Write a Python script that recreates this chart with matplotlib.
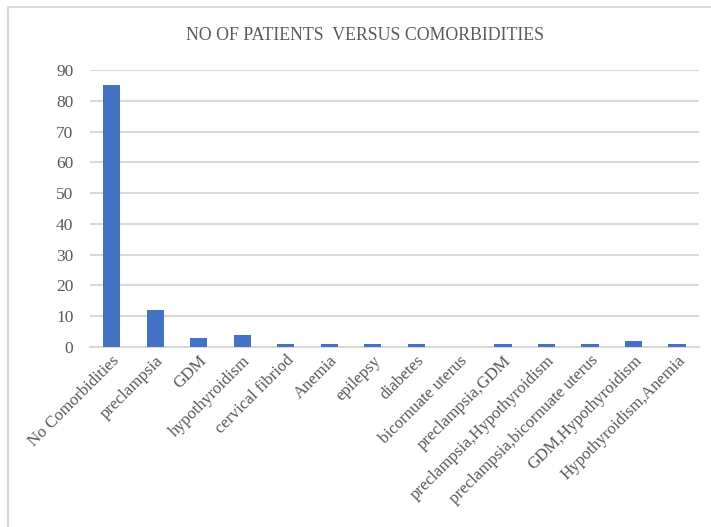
import matplotlib.pyplot as plt
from matplotlib.patches import Rectangle

# Comorbidity categories and patient counts
categories = ['No Comorbidities', 'preclampsia', 'GDM', 'hypothyroidism',
              'cervical fibriod', 'Anemia', 'epilepsy', 'diabetes',
              'bicornuate uterus', 'preclampsia,GDM',
              'preclampsia,Hypothyroidism', 'preclampsia,bicornuate uterus',
              'GDM,Hypothyroidism', 'Hypothyroidism,Anemia']
patients = [85, 12, 3, 4, 1, 1, 1, 1, 0, 1, 1, 1, 2, 1]
y_ticks = [0, 10, 20, 30, 40, 50, 60, 70, 80, 90]

plt.rcParams['font.family'] = ['Liberation Serif', 'DejaVu Serif']
text_color = '#595959'
grid_color = '#d9d9d9'

fig = plt.figure(figsize=(7.11, 5.27), dpi=100)
ax = fig.add_axes([0.1266, 0.3415, 0.8564, 0.5255])

# Light frame around the whole chart (only left and top edges visible)
fig.patches.append(Rectangle((0.0115, -0.05), 1.2, 1.036, transform=fig.transFigure,
                             fill=False, edgecolor='#d9d9d9', linewidth=1.5))

x = range(len(categories))
ax.bar(x, patients, width=0.4, color='#4472c4', zorder=3)

ax.set_xlim(-0.5, len(categories) - 0.5)
ax.set_ylim(0, 90)
ax.set_yticks(y_ticks)
ax.yaxis.grid(True, color=grid_color, linewidth=1.5, zorder=0)
ax.tick_params(axis='y', length=0, pad=12, labelsize=12.5, labelcolor=text_color)
ax.tick_params(axis='x', length=0, pad=4, labelsize=12.2, labelcolor=text_color)
ax.set_xticks(list(x))
ax.set_xticklabels(categories, rotation=45, ha='right', rotation_mode='anchor')

for s in ['top', 'right', 'left']:
    ax.spines[s].set_visible(False)
ax.spines['bottom'].set_color(grid_color)
ax.spines['bottom'].set_linewidth(1.5)

fig.text(0.513, 0.932, 'NO OF PATIENTS  VERSUS COMORBIDITIES', ha='center',
         va='center', fontsize=12.8, color=text_color)

fig.savefig('out.png', dpi=100)
plt.close(fig)
